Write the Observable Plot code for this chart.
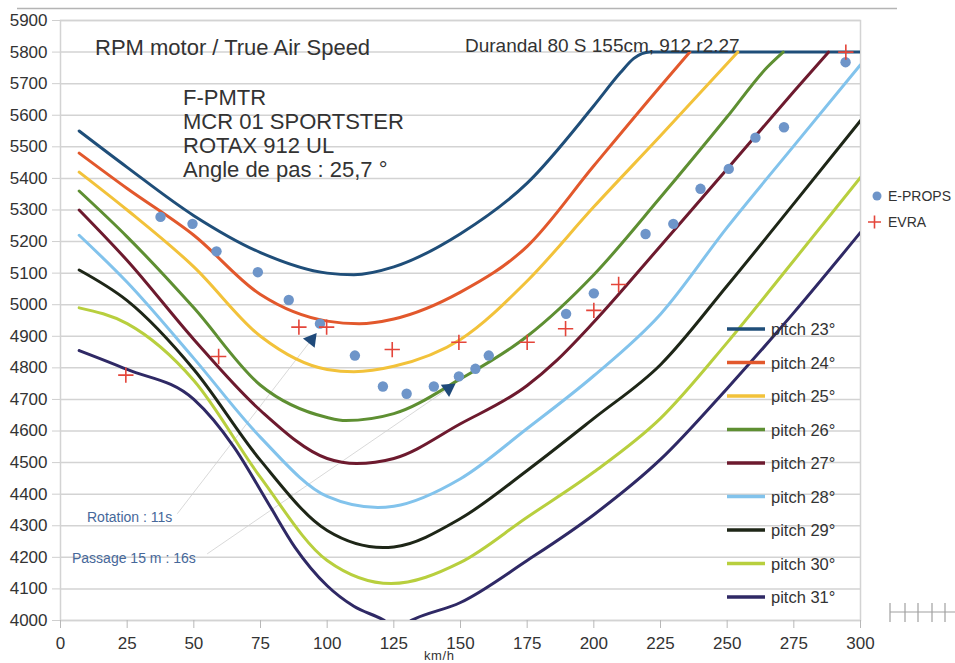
<!DOCTYPE html>
<html><head><meta charset="utf-8">
<script src="https://cdn.jsdelivr.net/npm/d3@7"></script>
<script src="https://cdn.jsdelivr.net/npm/@observablehq/plot@0.6"></script>
<style>
html,body{margin:0;padding:0;background:#fff;}
#wrap{position:relative;width:955px;height:663px;overflow:hidden;font-family:"Liberation Sans",Arial,sans-serif;}
#wrap svg{position:absolute;left:0;top:0;}
</style></head><body><div id="wrap"></div>
<script>
// ---------- data ----------
const pitches = ["pitch 23°","pitch 24°","pitch 25°","pitch 26°","pitch 27°","pitch 28°","pitch 29°","pitch 30°","pitch 31°"];
const pitchColors = ["#1f4e79","#e2582c","#f2c23a","#5e8f32","#6d1a2e","#82c3ec","#1e2617","#b8cf3e","#2f2965"];

const speed23 = [7,25,50,75,100,110,125,150,175,200,210,215,221,300];
const rpm23   = [5550,5435,5282,5165,5100,5095,5120,5225,5385,5630,5735,5780,5800,5800];
const speed24 = [7,25,50,75,100,112,125,150,175,200,225,236];
const rpm24   = [5480,5368,5220,5032,4948,4940,4955,5040,5185,5440,5692,5800];
const speed25 = [7,25,50,75,100,110,125,150,175,200,225,254];
const rpm25   = [5420,5300,5120,4900,4795,4788,4805,4890,5075,5310,5535,5800];
const speed26 = [7,25,50,75,100,107,125,150,175,200,225,250,265,271];
const rpm26   = [5360,5215,4990,4745,4643,4633,4655,4765,4900,5095,5340,5595,5752,5800];
const speed27 = [7,25,50,75,100,111,125,150,175,186,200,225,250,275,288];
const rpm27   = [5300,5140,4890,4665,4513,4497,4513,4623,4744,4823,4945,5186,5430,5675,5800];
const speed28 = [7,25,50,75,100,119,125,150,175,200,225,250,275,300];
const rpm28   = [5220,5071,4830,4580,4393,4358,4362,4449,4608,4775,4970,5245,5503,5760];
const speed29 = [7,25,50,75,100,121,125,150,175,200,225,250,275,300];
const rpm29   = [5110,5013,4795,4507,4285,4231,4233,4323,4475,4640,4810,5060,5320,5583];
const speed30 = [7,25,50,75,100,124,150,175,200,225,250,275,300];
const rpm30   = [4990,4940,4760,4453,4190,4117,4184,4327,4470,4640,4880,5140,5403];
const speed31 = [7,25,50,65,78,88,100,110,121,126,132,150,175,200,225,250,275,300];
const rpm31   = [4855,4795,4700,4550,4370,4231,4110,4045,4002,3975,4002,4057,4190,4335,4510,4735,4975,5229];

const epropsSpeed = [37.5,49.5,58.5,74,85.6,97.3,110.4,120.9,129.8,140,149.4,155.6,160.6,189.6,200,219.4,229.8,240,250.6,260.6,271.3,294.4];
const epropsRpm   = [5278,5256,5169,5103,5015,4940,4839,4741,4718,4741,4773,4797,4839,4971,5036,5224,5256,5367,5430,5529,5562,5768];
const evraSpeed = [24.5,59.3,89.4,99.8,124.4,149.4,175,189.4,200,209.3,294.5];
const evraRpm   = [4777,4836,4929,4929,4858,4881,4881,4924,4982,5064,5800];

const xTicks = [0,25,50,75,100,125,150,175,200,225,250,275,300];
const yTicks = [4000,4100,4200,4300,4400,4500,4600,4700,4800,4900,5000,5100,5200,5300,5400,5500,5600,5700,5800,5900];

const annotTexts = ["Rotation : 11s","Passage 15 m : 16s"];
const annotFromSpeed = [43.8,55], annotFromRpm = [4338,4211];
const annotToSpeed = [94.1,145.5], annotToRpm = [4889,4735];
const annotAngle = [38,56];

const titleText = "RPM motor / True Air Speed";
const subtitleText = "Durandal 80 S 155cm, 912 r2.27";
const infoLines = ["F-PMTR","MCR 01 SPORTSTER","ROTAX 912 UL","Angle de pas : 25,7 °"];
const pointLegend = ["E-PROPS","EVRA"];
const xUnit = "km/h";
const epColor = "#6e95c9", evColor = "#e4453a", annotColor = "#46689a";

// ---------- build tables ----------
const speeds = [speed23,speed24,speed25,speed26,speed27,speed28,speed29,speed30,speed31];
const rpms = [rpm23,rpm24,rpm25,rpm26,rpm27,rpm28,rpm29,rpm30,rpm31];
const rows = [];
speeds.forEach((sp,i)=>sp.forEach((v,j)=>rows.push({pitch:pitches[i], speed:v, rpm:rpms[i][j]})));
const eprops = epropsSpeed.map((v,i)=>({speed:v, rpm:epropsRpm[i]}));
const evra = evraSpeed.map((v,i)=>({speed:v, rpm:evraRpm[i]}));
const annot = annotTexts.map((t,i)=>({x1:annotFromSpeed[i], y1:annotFromRpm[i], x2:annotToSpeed[i], y2:annotToRpm[i], angle:annotAngle[i]}));

const chart = Plot.plot({
  width: 955, height: 663,
  marginLeft: 60, marginRight: 95, marginTop: 20, marginBottom: 43,
  style: {fontFamily: '"Liberation Sans", Arial, sans-serif', fontSize: "17px", color: "#333", background: "transparent"},
  x: {domain: [0,300], label: null},
  y: {domain: [4000,5900], label: null},
  color: {domain: pitches, range: pitchColors},
  marks: [
    Plot.gridY(yTicks, {stroke: "#d3d3d3", strokeOpacity: 1, strokeWidth: 1.5}),
    Plot.frame({stroke: "#d3d3d3", strokeWidth: 1.5}),
    Plot.axisY(yTicks, {tickSize: 8, tickPadding: 5, stroke: "#cfcfcf", fill: "#333", tickFormat: d => String(d)}),
    Plot.axisX(xTicks, {tickSize: 8, tickPadding: 8, stroke: "#b8b8b8", fill: "#333", tickFormat: d => String(d)}),
    Plot.link(annot, {x1:"x1", y1:"y1", x2:"x2", y2:"y2", stroke:"#cfcfcf", strokeWidth:0.8}),
    Plot.line(rows, {x:"speed", y:"rpm", z:"pitch", stroke:"pitch", strokeWidth:3, curve:"monotone-x", clip:true}),
    Plot.dot(annot, {x:"x2", y:"y2", symbol:"triangle", r:5.5, fill:"#1f4a7a", rotate:"angle"}),
    Plot.dot(eprops, {x:"speed", y:"rpm", r:5.2, fill:epColor}),
    Plot.dot(evra, {x:"speed", y:"rpm", symbol:"plus", r:5, stroke:evColor, strokeWidth:1.6})
  ]
});
const wrap = document.getElementById("wrap");
wrap.appendChild(chart);

// ---------- overlay texts / legends ----------
const ov = d3.create("svg").attr("width",955).attr("height",663)
  .style("font-family",'"Liberation Sans", Arial, sans-serif').style("pointer-events","none");
ov.append("line").attr("x1",17).attr("x2",897).attr("y1",8.5).attr("y2",8.5).attr("stroke","#b4b4b4").attr("stroke-width",1.5);
const txt = (s,x,y,size,fill="#333") => ov.append("text").attr("x",x).attr("y",y).attr("font-size",size).attr("fill",fill).text(s);
txt(titleText, 95, 55, 22);
txt(subtitleText, 465, 52, 19);
infoLines.forEach((s,i)=>txt(s, 183, 105 + i*24, 22));
txt(annotTexts[0], 87, 522, 14, annotColor);
txt(annotTexts[1], 72, 563, 14, annotColor);
pitches.forEach((p,i)=>{
  const y = 329 + i*33.5;
  ov.append("line").attr("x1",727).attr("x2",765).attr("y1",y).attr("y2",y).attr("stroke",pitchColors[i]).attr("stroke-width",3.5);
  txt(p, 771, y+6, 16.5);
});
ov.append("circle").attr("cx",877).attr("cy",196).attr("r",4.5).attr("fill",epColor);
txt(pointLegend[0], 888, 201, 14);
ov.append("path").attr("d","M868,222H881M874.5,215.5V228.5").attr("stroke",evColor).attr("stroke-width",1.6).attr("fill","none");
txt(pointLegend[1], 888, 227, 14);
txt(xUnit, 424, 660, 13).attr("letter-spacing", "0.6px");
// stray scale mark at bottom right
ov.append("line").attr("x1",890).attr("x2",955).attr("y1",612).attr("y2",612).attr("stroke","#a0a0a0").attr("stroke-width",1.2);
[890,905,918,932,945].forEach(x=>ov.append("line").attr("x1",x).attr("x2",x).attr("y1",603).attr("y2",622).attr("stroke","#a0a0a0").attr("stroke-width",1.2));
wrap.appendChild(ov.node());
</script></body></html>
